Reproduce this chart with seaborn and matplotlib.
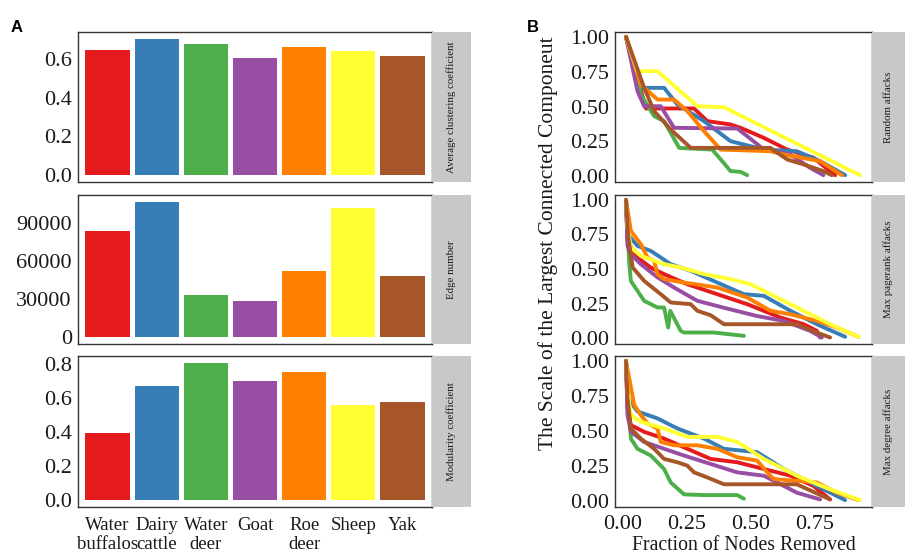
import matplotlib
matplotlib.use("Agg")
import matplotlib.pyplot as plt
import seaborn as sns
import pandas as pd

# ---------------- data ----------------
species = ["Water\nbuffalos", "Dairy\ncattle", "Water\ndeer", "Goat", "Roe\ndeer", "Sheep", "Yak"]
colors = ["#E41A1C", "#377EB8", "#4DAF4A", "#984EA3", "#FF7F00", "#FFFF33", "#A65628"]

clustering = [0.648, 0.705, 0.676, 0.607, 0.664, 0.641, 0.617]
edge_number = [84000, 106700, 33400, 28900, 52500, 101500, 48500]
modularity = [0.395, 0.676, 0.806, 0.702, 0.753, 0.562, 0.576]

panelA_strips = ["Average clustering coefficient", "Edge number", "Modularity coefficient"]
panelB_strips = ["Random affacks", "Max pagerank affacks", "Max degree affacks"]

# Random attacks
rand_red_x = [0.013, 0.091, 0.279, 0.331, 0.422, 0.461, 0.552, 0.643, 0.747, 0.818, 0.831]
rand_red_y = [1.0, 0.486, 0.486, 0.395, 0.371, 0.347, 0.275, 0.191, 0.132, 0.024, 0.007]
rand_blue_x = [0.013, 0.071, 0.162, 0.214, 0.318, 0.422, 0.552, 0.681, 0.772, 0.870]
rand_blue_y = [1.0, 0.634, 0.634, 0.514, 0.395, 0.251, 0.191, 0.179, 0.108, 0.007]
rand_green_x = [0.013, 0.071, 0.123, 0.162, 0.221, 0.350, 0.389, 0.422, 0.461, 0.487]
rand_green_y = [1.0, 0.586, 0.431, 0.395, 0.203, 0.191, 0.108, 0.036, 0.031, 0.007]
rand_purple_x = [0.013, 0.058, 0.084, 0.149, 0.201, 0.448, 0.487, 0.552, 0.656, 0.733, 0.785]
rand_purple_y = [1.0, 0.61, 0.502, 0.502, 0.347, 0.342, 0.287, 0.191, 0.155, 0.060, 0.007]
rand_orange_x = [0.013, 0.071, 0.136, 0.201, 0.253, 0.318, 0.383, 0.578, 0.630, 0.772, 0.857]
rand_orange_y = [1.0, 0.658, 0.55, 0.55, 0.467, 0.323, 0.191, 0.179, 0.155, 0.108, 0.007]
rand_yellow_x = [0.013, 0.058, 0.136, 0.292, 0.396, 0.928]
rand_yellow_y = [1.0, 0.754, 0.754, 0.502, 0.495, 0.007]
rand_brown_x = [0.013, 0.084, 0.123, 0.188, 0.266, 0.578, 0.643, 0.708, 0.785, 0.818]
rand_brown_y = [1.0, 0.634, 0.467, 0.335, 0.203, 0.203, 0.12, 0.084, 0.036, 0.007]

# Max pagerank attacks
pr_red_x = [0.013, 0.019, 0.058, 0.110, 0.162, 0.253, 0.370, 0.487, 0.617, 0.708, 0.759, 0.772]
pr_red_y = [1.0, 0.703, 0.583, 0.51, 0.463, 0.39, 0.318, 0.246, 0.149, 0.101, 0.053, 0.005]
pr_blue_x = [0.013, 0.019, 0.058, 0.110, 0.188, 0.266, 0.370, 0.474, 0.552, 0.656, 0.759, 0.870]
pr_blue_y = [1.0, 0.752, 0.667, 0.631, 0.535, 0.487, 0.402, 0.318, 0.306, 0.198, 0.101, 0.01]
pr_green_x = [0.013, 0.026, 0.032, 0.084, 0.136, 0.162, 0.178, 0.186, 0.227, 0.240, 0.357, 0.474]
pr_green_y = [1.0, 0.535, 0.414, 0.27, 0.222, 0.222, 0.077, 0.198, 0.053, 0.041, 0.041, 0.017]
pr_purple_x = [0.013, 0.019, 0.032, 0.071, 0.136, 0.201, 0.292, 0.396, 0.526, 0.630, 0.733, 0.779]
pr_purple_y = [1.0, 0.667, 0.607, 0.535, 0.44, 0.366, 0.27, 0.22, 0.16, 0.125, 0.053, 0.005]
pr_orange_x = [0.013, 0.032, 0.071, 0.097, 0.123, 0.136, 0.162, 0.240, 0.370, 0.487, 0.578, 0.656, 0.759, 0.837, 0.922]
pr_orange_y = [1.0, 0.776, 0.68, 0.583, 0.559, 0.463, 0.427, 0.402, 0.366, 0.294, 0.198, 0.173, 0.125, 0.077, 0.01]
pr_yellow_x = [0.013, 0.019, 0.032, 0.071, 0.162, 0.227, 0.318, 0.422, 0.500, 0.578, 0.681, 0.811, 0.922]
pr_yellow_y = [1.0, 0.80, 0.655, 0.595, 0.535, 0.511, 0.463, 0.427, 0.39, 0.318, 0.222, 0.101, 0.01]
pr_brown_x = [0.013, 0.022, 0.039, 0.084, 0.149, 0.188, 0.266, 0.292, 0.344, 0.396, 0.681, 0.759, 0.811]
pr_brown_y = [1.0, 0.728, 0.511, 0.414, 0.318, 0.258, 0.246, 0.198, 0.166, 0.101, 0.101, 0.041, 0.005]

# Max degree attacks
deg_red_x = [0.013, 0.019, 0.032, 0.084, 0.162, 0.253, 0.344, 0.448, 0.552, 0.656, 0.746, 0.811]
deg_red_y = [1.0, 0.663, 0.542, 0.494, 0.446, 0.373, 0.301, 0.277, 0.229, 0.181, 0.108, 0.012]
deg_blue_x = [0.013, 0.019, 0.058, 0.136, 0.214, 0.318, 0.396, 0.526, 0.630, 0.759, 0.870]
deg_blue_y = [1.0, 0.735, 0.639, 0.59, 0.518, 0.446, 0.373, 0.349, 0.229, 0.108, 0.007]
deg_green_x = [0.013, 0.032, 0.058, 0.110, 0.162, 0.188, 0.240, 0.318, 0.448, 0.474]
deg_green_y = [1.0, 0.446, 0.373, 0.325, 0.229, 0.133, 0.048, 0.043, 0.043, 0.017]
deg_purple_x = [0.013, 0.019, 0.032, 0.084, 0.162, 0.240, 0.344, 0.448, 0.552, 0.604, 0.681, 0.772]
deg_purple_y = [1.0, 0.614, 0.494, 0.422, 0.373, 0.325, 0.265, 0.205, 0.181, 0.133, 0.06, 0.012]
deg_orange_x = [0.013, 0.045, 0.071, 0.097, 0.136, 0.149, 0.201, 0.292, 0.370, 0.448, 0.526, 0.565, 0.591, 0.681, 0.759, 0.837, 0.922]
deg_orange_y = [1.0, 0.687, 0.614, 0.554, 0.518, 0.422, 0.398, 0.398, 0.373, 0.313, 0.289, 0.205, 0.157, 0.145, 0.133, 0.06, 0.007]
deg_yellow_x = [0.013, 0.019, 0.032, 0.071, 0.162, 0.253, 0.370, 0.448, 0.552, 0.681, 0.811, 0.928]
deg_yellow_y = [1.0, 0.783, 0.614, 0.566, 0.518, 0.458, 0.458, 0.422, 0.301, 0.181, 0.084, 0.007]
deg_brown_x = [0.013, 0.019, 0.032, 0.071, 0.123, 0.162, 0.214, 0.253, 0.279, 0.331, 0.396, 0.681, 0.811]
deg_brown_y = [1.0, 0.735, 0.518, 0.446, 0.373, 0.301, 0.277, 0.253, 0.205, 0.169, 0.12, 0.12, 0.012]

curves = [
    [(rand_red_x, rand_red_y), (rand_blue_x, rand_blue_y), (rand_green_x, rand_green_y),
     (rand_purple_x, rand_purple_y), (rand_orange_x, rand_orange_y), (rand_yellow_x, rand_yellow_y),
     (rand_brown_x, rand_brown_y)],
    [(pr_red_x, pr_red_y), (pr_blue_x, pr_blue_y), (pr_green_x, pr_green_y),
     (pr_purple_x, pr_purple_y), (pr_orange_x, pr_orange_y), (pr_yellow_x, pr_yellow_y),
     (pr_brown_x, pr_brown_y)],
    [(deg_red_x, deg_red_y), (deg_blue_x, deg_blue_y), (deg_green_x, deg_green_y),
     (deg_purple_x, deg_purple_y), (deg_orange_x, deg_orange_y), (deg_yellow_x, deg_yellow_y),
     (deg_brown_x, deg_brown_y)],
]

# ---------------- style ----------------
sns.set_theme(style="white")
plt.rcParams["font.family"] = ["Liberation Serif", "DejaVu Serif"]

W, H = 905, 558
fig = plt.figure(figsize=(W / 100, H / 100), dpi=100)

def rect(x0, y0, x1, y1):
    return [x0 / W, 1 - y1 / H, (x1 - x0) / W, (y1 - y0) / H]

rows = [(32, 182), (195, 344), (356, 507)]
SPINE = "#333333"
TICKC = "#1a1a1a"
STRIP = "#C8C8C8"
TICKSIZE = 16

def style_axes(ax):
    for s in ax.spines.values():
        s.set_color(SPINE)
        s.set_linewidth(1.0)
        s.set_visible(True)
    ax.tick_params(axis="both", direction="out", length=3, width=0.8, color=SPINE,
                   labelsize=TICKSIZE, labelcolor=TICKC, pad=1.5)
    ax.set_xlabel("")
    ax.set_ylabel("")
    ax.grid(False)

def add_strip(x0, x1, y0, y1, text):
    sa = fig.add_axes(rect(x0, y0, x1, y1))
    sa.set_facecolor(STRIP)
    for s in sa.spines.values():
        s.set_visible(False)
    sa.set_xticks([])
    sa.set_yticks([])
    sa.text(0.5, 0.5, text, rotation=90, ha="center", va="center", fontsize=7.8,
            color="#1a1a1a", transform=sa.transAxes)

# ---------------- panel A ----------------
bar_data = [clustering, edge_number, modularity]
ylims = [(-0.036, 0.74), (-5400, 112100), (-0.04, 0.85)]
yticks = [[0.0, 0.2, 0.4, 0.6], [0, 30000, 60000, 90000], [0.0, 0.2, 0.4, 0.6, 0.8]]
ytlabels = [["0.0", "0.2", "0.4", "0.6"], ["0", "30000", "60000", "90000"],
            ["0.0", "0.2", "0.4", "0.6", "0.8"]]

for i, (y0, y1) in enumerate(rows):
    ax = fig.add_axes(rect(78, y0, 432, y1))
    df = pd.DataFrame({"species": species, "value": bar_data[i]})
    sns.barplot(data=df, x="species", y="value", hue="species", palette=colors,
                order=species, hue_order=species, width=0.9, saturation=1,
                legend=False, ax=ax, edgecolor="none")
    ax.set_xlim(-0.6, 6.6)
    ax.set_ylim(*ylims[i])
    ax.set_yticks(yticks[i])
    ax.set_yticklabels(ytlabels[i])
    style_axes(ax)
    if i < 2:
        ax.tick_params(axis="x", bottom=False, labelbottom=False)
    else:
        ax.tick_params(axis="x", length=5, labelsize=13.5, pad=2)
    add_strip(432, 471, y0, y1, panelA_strips[i])

# ---------------- panel B ----------------
for i, (y0, y1) in enumerate(rows):
    ax = fig.add_axes(rect(615, y0, 872, y1))
    recs = []
    for sp, (xs, ys) in zip(species, curves[i]):
        for xv, yv in zip(xs, ys):
            recs.append({"x": xv, "y": yv, "species": sp})
    df = pd.DataFrame(recs)
    sns.lineplot(data=df, x="x", y="y", hue="species", hue_order=species,
                 palette=colors, sort=False, estimator=None, linewidth=2.8,
                 legend=False, ax=ax)
    ax.set_xlim(-0.03, 0.975)
    ax.set_ylim(-0.042, 1.035)
    ax.set_yticks([0, 0.25, 0.5, 0.75, 1.0])
    ax.set_yticklabels(["0.00", "0.25", "0.50", "0.75", "1.00"])
    ax.set_xticks([0, 0.25, 0.5, 0.75])
    ax.set_xticklabels(["0.00", "0.25", "0.50", "0.75"])
    style_axes(ax)
    if i < 2:
        ax.tick_params(axis="x", bottom=False, labelbottom=False)
    else:
        ax.tick_params(axis="x", length=4, pad=2)
    add_strip(872, 905, y0, y1, panelB_strips[i])

fig.text(548 / W, 1 - 243 / H, "The Scale of the Largest Connected Componeut",
         rotation=90, ha="center", va="center", fontsize=15.5, color=TICKC)
fig.text(744 / W, 1 - 546 / H, "Fraction of Nodes Removed",
         ha="center", va="center", fontsize=14.2, color=TICKC)

fig.text(11 / W, 1 - 32 / H, "A", fontsize=12, fontweight="bold",
         family="Liberation Sans", color="black", ha="left", va="baseline")
fig.text(527 / W, 1 - 32 / H, "B", fontsize=12, fontweight="bold",
         family="Liberation Sans", color="black", ha="left", va="baseline")

fig.savefig("out.png", dpi=100, facecolor="white")
